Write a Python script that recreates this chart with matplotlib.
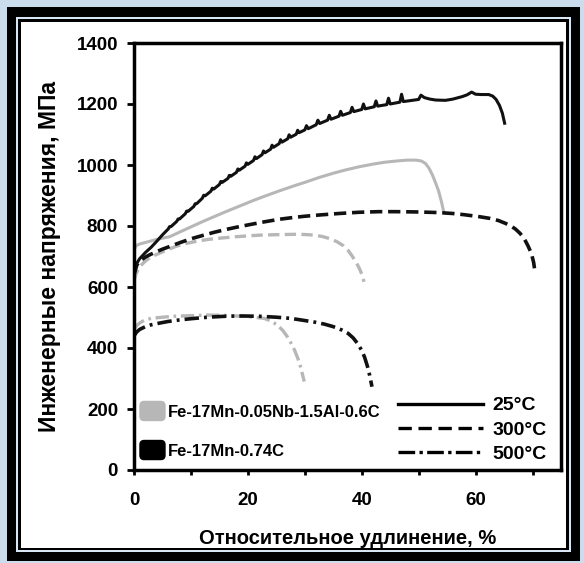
import matplotlib
matplotlib.use("Agg")
import matplotlib.pyplot as plt
from matplotlib.patches import Rectangle, Patch, FancyBboxPatch
from matplotlib.lines import Line2D
from matplotlib.legend_handler import HandlerPatch

plt.rcParams["font.family"] = ["Liberation Sans", "DejaVu Sans"]
plt.rcParams["font.weight"] = "bold"

# ─── data ─────────────────────────────────────────────────────────────────────
# Fe-17Mn-0.74C, 25°C (serrated curve)
black25_x = [0, 0.5, 1, 2, 3, 4, 5,
             6, 6.25, 6.5, 7.5, 7.75, 8, 9, 9.25, 9.5, 10.5, 10.75, 11,
             12, 12.25, 12.5, 13.5, 13.75, 14, 15, 15.25, 15.5, 16.5, 16.75, 17,
             18, 18.25, 18.5, 19.5, 19.75, 20, 21, 21.25, 21.5, 22.5, 22.75, 23,
             24, 24.25, 24.5, 25.5, 25.75, 26, 27, 27.25, 27.5, 28.5, 28.75, 29,
             30, 30.3, 30.6, 32, 32.3, 32.6, 34, 34.3, 34.6, 36, 36.3, 36.6,
             38, 38.3, 38.6, 40, 40.3, 40.6, 42.2, 42.5, 42.8, 44.4, 44.7, 45,
             46.7, 47, 47.3, 48.5, 50, 50.4, 51, 52, 53, 54.7, 56, 57.6, 58.5,
             59.3, 60, 61, 62.3, 63, 63.6, 64.2, 64.7, 65.1]
black25_y = [650, 678, 693, 713, 730, 750, 771,
             790, 798, 798, 815, 823, 823, 840, 849, 848, 864, 873, 873,
             891, 901, 899, 914, 924, 921, 936, 946, 943, 956, 966, 963,
             976, 987, 983, 996, 1007, 1002, 1015, 1027, 1021, 1034, 1046, 1040,
             1052, 1065, 1058, 1070, 1083, 1075, 1086, 1099, 1091, 1101, 1114, 1106,
             1115, 1129, 1119, 1132, 1147, 1136, 1147, 1163, 1150, 1160, 1176, 1163,
             1172, 1189, 1175, 1182, 1200, 1184, 1191, 1210, 1193, 1198, 1219, 1200,
             1206, 1232, 1208, 1211, 1215, 1229, 1221, 1216, 1213, 1212, 1216, 1224, 1230,
             1239, 1232, 1231, 1231, 1226, 1215, 1195, 1170, 1137]

# Fe-17Mn-0.05Nb-1.5Al-0.6C, 25°C
gray25_x = [0, 0.4, 1, 2, 3, 4, 5, 6.3, 8, 10, 12, 14, 16, 18.5, 21, 23,
            25.5, 28, 30, 32.5, 35, 37, 39.5, 42, 44, 46, 48, 49.5, 50.5,
            51.2, 51.8, 52.4, 53, 53.5, 54, 54.4]
gray25_y = [722, 736, 741, 746, 751, 756, 760, 765, 780, 797, 814, 830, 846, 865, 884, 898,
            915, 931, 943, 959, 973, 983, 994, 1003, 1009, 1013, 1016, 1016, 1013,
            1005, 990, 968, 940, 915, 880, 846]

# Fe-17Mn-0.74C, 300°C
black300_x = [0, 0.5, 1, 2, 2.8, 4, 5, 6.3, 8, 10, 11.5, 14, 16, 18.5, 21, 23,
              25.5, 28, 30, 32.5, 36, 39.5, 43, 46, 50, 53.5, 56, 58, 60.5, 62.5,
              64, 65.2, 66.2, 67, 67.8, 68.5, 69.2, 69.8, 70.2, 70.4]
black300_y = [640, 672, 685, 698, 706, 716, 724, 733, 745, 758, 766, 779, 788, 798, 807, 814,
              822, 828, 832, 836, 841, 845, 847, 847, 846, 844, 841, 837, 831, 825,
              818, 809, 800, 790, 776, 760, 735, 710, 680, 653]

# Fe-17Mn-0.05Nb-1.5Al-0.6C, 300°C
gray300_x = [0, 0.4, 1, 2, 3, 4.5, 6, 7.5, 9.2, 11, 13, 15, 18, 22, 26, 29,
             31, 33, 34.5, 35.7, 36.8, 37.6, 38.3, 39, 39.6, 40.1, 40.4]
gray300_y = [622, 645, 667, 685, 699, 711, 723, 734, 743, 750, 756, 760, 765, 770, 772, 773,
             771, 766, 758, 748, 735, 720, 702, 682, 660, 638, 617]

# Fe-17Mn-0.74C, 500°C
black500_x = [0, 0.5, 1, 2, 3, 4.3, 6, 8, 10, 13, 16, 19, 22, 25, 27.6, 30,
              32, 33.5, 35, 36.5, 37.6, 38.5, 39.3, 40, 40.5, 41, 41.4, 41.8]
black500_y = [440, 453, 461, 470, 476, 481, 487, 492, 496, 501, 504, 505, 504, 501, 497, 490,
              484, 478, 470, 459, 448, 433, 414, 392, 370, 340, 310, 273]

# Fe-17Mn-0.05Nb-1.5Al-0.6C, 500°C
gray500_x = [0, 0.5, 1, 1.9, 3, 5, 7, 10, 13, 16, 19, 21, 22.9, 24, 25.2,
             26.2, 27, 27.6, 28.2, 28.8, 29.3, 29.9]
gray500_y = [462, 474, 482, 492, 497, 501, 504, 506, 508, 507, 504, 501, 497, 489, 475,
             456, 435, 415, 393, 365, 335, 290]

alloys = ["Fe-17Mn-0.05Nb-1.5Al-0.6C", "Fe-17Mn-0.74C"]
temps = ["25°C", "300°C", "500°C"]
x_ticks = [0, 10, 20, 30, 40, 50, 60, 70]
x_ticklabels = ["0", "", "20", "", "40", "", "60", ""]
y_ticks = [0, 200, 400, 600, 800, 1000, 1200, 1400]

GRAY = "#b7b7b7"
BLACK = "#111111"
DASH = (3.4, 1.6)
DASHDOT = (4, 1.4, 0.8, 1.4)

W, H = 584, 563
fig = plt.figure(figsize=(W / 100, H / 100), dpi=100)
fig.patch.set_facecolor("#cbdcec")


def frame_rect(x0, y0, x1, y1, color):
    fig.patches.append(Rectangle((x0 / W, 1 - y1 / H), (x1 - x0) / W, (y1 - y0) / H,
                                 transform=fig.transFigure, facecolor=color,
                                 edgecolor="none", zorder=-10))


def rounded_square(legend, orig_handle, xdescent, ydescent, width, height, fontsize):
    return FancyBboxPatch((-xdescent, -ydescent), width, height,
                          boxstyle="round,pad=0,rounding_size=3")


# decorative frame around the chart
frame_rect(7, 7, 580, 561, "black")
frame_rect(16, 17, 571, 552, "#d6e6f4")
frame_rect(18, 19, 569, 550, "black")
frame_rect(21, 22, 566, 548, "white")

ax = fig.add_axes([134 / W, 1 - 470 / H, (561 - 134) / W, (470 - 43) / H])
ax.set_facecolor("white")

ax.plot(gray25_x, gray25_y, color=GRAY, lw=2.2)
ax.plot(gray300_x, gray300_y, color=GRAY, lw=2.4, dashes=DASH)
ax.plot(gray500_x, gray500_y, color=GRAY, lw=2.4, dashes=DASHDOT)
ax.plot(black300_x, black300_y, color=BLACK, lw=2.6, dashes=DASH)
ax.plot(black500_x, black500_y, color=BLACK, lw=2.6, dashes=DASHDOT)
ax.plot(black25_x, black25_y, color=BLACK, lw=2.2)

ax.set_xlim(0, 75)
ax.set_ylim(0, 1400)
ax.set_xticks(x_ticks)
ax.set_xticklabels(x_ticklabels)
ax.set_yticks(y_ticks)
ax.tick_params(axis="x", direction="out", length=3.6, width=2, labelsize=13.5, pad=12)
ax.tick_params(axis="y", direction="out", length=5, width=2, labelsize=13.5, pad=6.5)
for s in ax.spines.values():
    s.set_linewidth(2.5)

ax.set_xlabel("Относительное удлинение, %", fontsize=14.5, fontweight="bold")
ax.set_ylabel("Инженерные напряжения, МПа", fontsize=16.5, fontweight="bold")
ax.xaxis.set_label_coords(0.5, -0.139)
ax.yaxis.set_label_coords(-0.171, 0.5)

# legend for alloys
alloy_handles = [Patch(facecolor=GRAY, edgecolor=GRAY),
                 Patch(facecolor="black", edgecolor="black")]
leg1 = ax.legend(alloy_handles, alloys, loc="center left", bbox_to_anchor=(0.014, 0.0925),
                 frameon=False, handlelength=1.5, handleheight=1.38, handletextpad=0.15,
                 labelspacing=1.2, borderpad=0, borderaxespad=0,
                 handler_map={Patch: HandlerPatch(patch_func=rounded_square)},
                 prop={"size": 12, "weight": "bold"})
ax.add_artist(leg1)

# legend for temperatures
temp_handles = [Line2D([], [], color="black", lw=2.4),
                Line2D([], [], color="black", lw=2.4, dashes=(4, 2)),
                Line2D([], [], color="black", lw=2.4, dashes=(5, 1.3, 1, 1.3))]
ax.legend(temp_handles, temps, loc="center left", bbox_to_anchor=(0.618, 0.0937),
          frameon=False, handlelength=4.4, handletextpad=0.45, labelspacing=0.35,
          borderpad=0, borderaxespad=0, prop={"size": 14, "weight": "bold"})

fig.savefig("out.png", dpi=100, facecolor=fig.get_facecolor())
